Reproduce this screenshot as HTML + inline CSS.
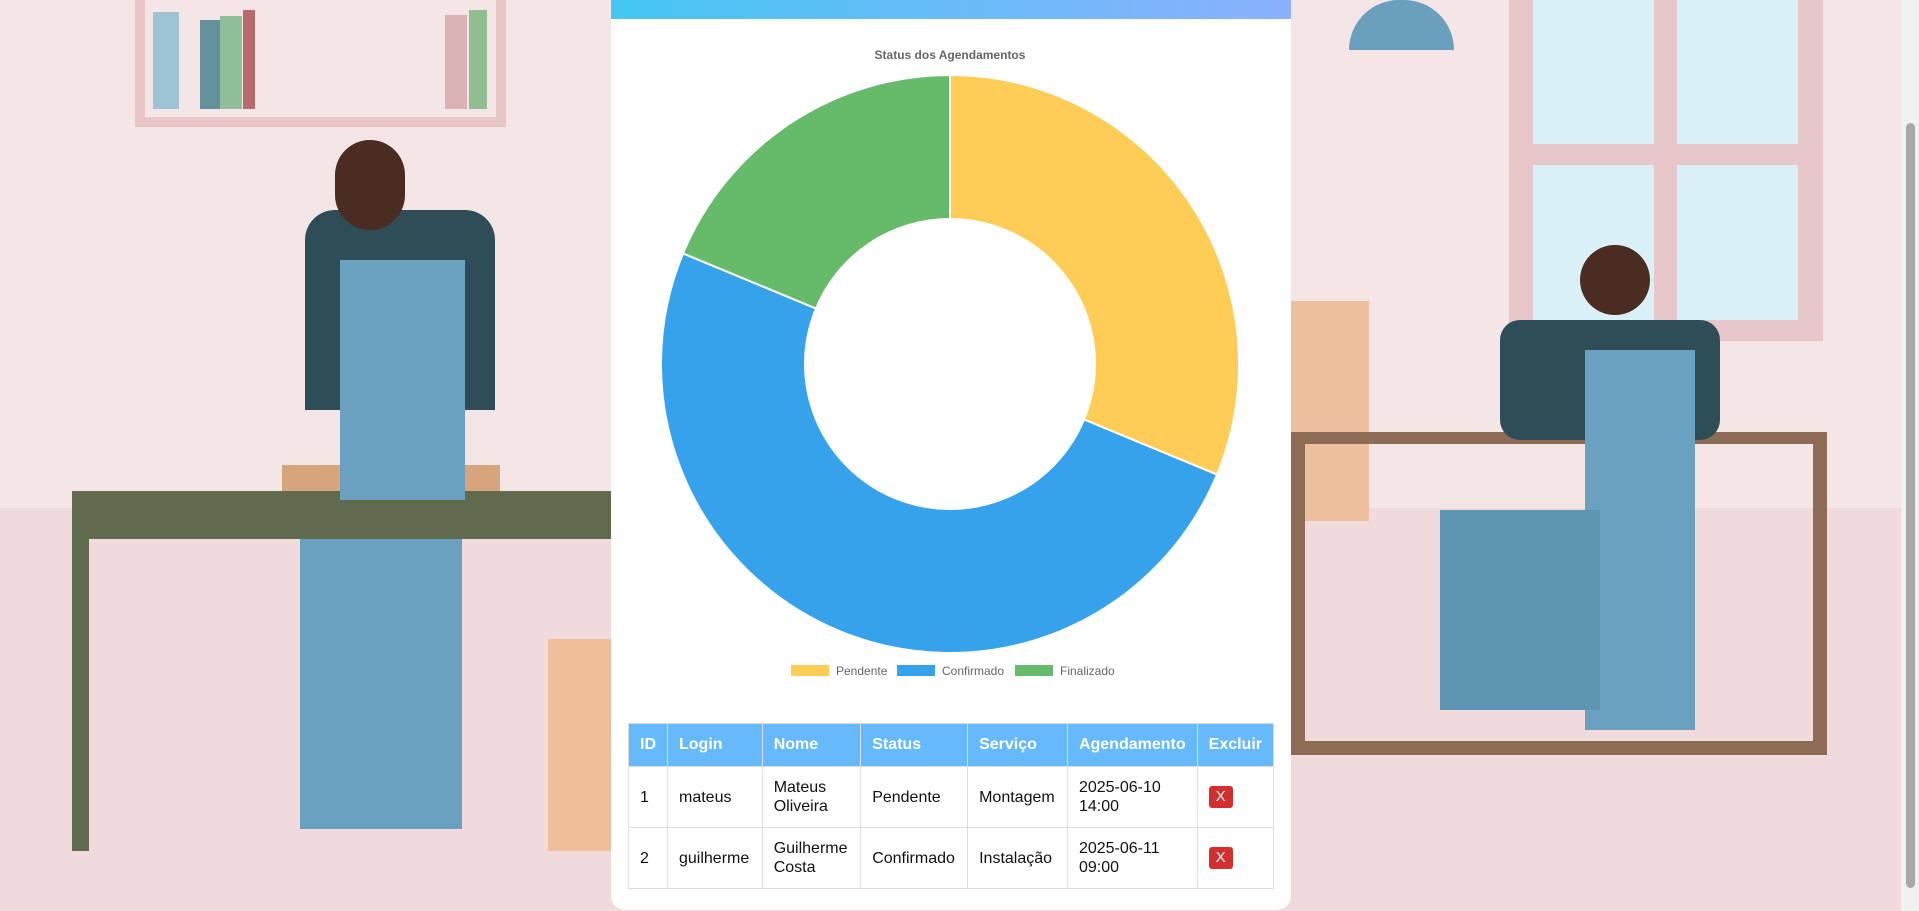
<!DOCTYPE html>
<html><head><meta charset="utf-8"><style>
*{margin:0;padding:0;box-sizing:border-box}
body{width:1919px;height:911px;overflow:hidden;background:#f4e6e6;font-family:"Liberation Sans",sans-serif;position:relative}
.a{position:absolute}
.card{position:absolute;left:611px;top:0;width:680px;height:910px;background:#fff;border-radius:0 0 14px 14px;overflow:hidden}
.bar{height:19px;background:linear-gradient(90deg,#45c6f3,#8bb0fd)}
table{position:absolute;left:17px;top:723px;width:646px;border-collapse:collapse;font-size:16px;color:#111}
th{background:#66b9fb;color:#fff;text-align:left;font-weight:bold;height:43px;padding:0 11px;border:1px solid #ddd}
td{border:1px solid #ddd;padding:0 11px;height:61px;line-height:19px}
.x{display:inline-block;background:#d32f2f;color:#fff;border-radius:3px;width:24px;height:22px;text-align:center;line-height:22px;font-size:15px}
</style></head><body>
<div class="a" style="left:0;top:508px;width:1919px;height:403px;background:#f1dadb"></div>
<div class="a" style="left:135px;top:0;width:371px;height:127px;border:10px solid #e8c6c8;border-top:none"></div>
<div class="a" style="left:153px;top:12px;width:26px;height:97px;background:#9ec3d5"></div>
<div class="a" style="left:200px;top:20px;width:20px;height:89px;background:#64909c"></div>
<div class="a" style="left:220px;top:16px;width:22px;height:93px;background:#8fbf98"></div>
<div class="a" style="left:243px;top:10px;width:12px;height:99px;background:#b86a6e"></div>
<div class="a" style="left:445px;top:15px;width:22px;height:94px;background:#dcb3b5"></div>
<div class="a" style="left:469px;top:10px;width:18px;height:99px;background:#8fbf8e"></div>
<div class="a" style="left:1509px;top:0;width:314px;height:341px;background:#e8c7cb"></div>
<div class="a" style="left:1533px;top:0;width:121px;height:144px;background:#d9f1f6"></div>
<div class="a" style="left:1677px;top:0;width:121px;height:144px;background:#d9f1f6"></div>
<div class="a" style="left:1533px;top:165px;width:121px;height:155px;background:#d9f1f6"></div>
<div class="a" style="left:1677px;top:165px;width:121px;height:155px;background:#d9f1f6"></div>
<div class="a" style="left:1349px;top:0;width:105px;height:50px;background:#6a9fbd;border-radius:50px 50px 0 0"></div>
<div class="a" style="left:1291px;top:301px;width:78px;height:220px;background:#eebf9c"></div>
<div class="a" style="left:72px;top:491px;width:539px;height:48px;background:#5f6b4c"></div>
<div class="a" style="left:72px;top:539px;width:17px;height:312px;background:#5f6b4c"></div>
<div class="a" style="left:548px;top:639px;width:63px;height:212px;background:#efbf9a"></div>
<div class="a" style="left:282px;top:465px;width:218px;height:26px;background:#d6a57c"></div>
<div class="a" style="left:305px;top:210px;width:190px;height:200px;background:#2f4d56;border-radius:30px 30px 0 0"></div>
<div class="a" style="left:335px;top:140px;width:70px;height:90px;background:#4a2c22;border-radius:35px"></div>
<div class="a" style="left:340px;top:260px;width:125px;height:240px;background:#6aa1c0"></div>
<div class="a" style="left:300px;top:539px;width:162px;height:290px;background:#6aa1c0"></div>
<div class="a" style="left:1291px;top:432px;width:536px;height:323px;border:14px solid #8e6b55;border-top-width:12px"></div>
<div class="a" style="left:1500px;top:320px;width:220px;height:120px;background:#2f4d56;border-radius:20px"></div>
<div class="a" style="left:1580px;top:245px;width:70px;height:70px;background:#4a2c22;border-radius:35px"></div>
<div class="a" style="left:1585px;top:350px;width:110px;height:380px;background:#6aa1c0"></div>
<div class="a" style="left:1440px;top:510px;width:160px;height:200px;background:#5d95b3"></div>
<div class="a" style="left:1901px;top:0;width:18px;height:911px;background:#f1f1f1"></div>
<div class="a" style="left:1906px;top:123px;width:9px;height:765px;background:#a8a8a8;border-radius:5px"></div>
<div class="card">
<div class="bar"></div>
<svg class="a" style="left:0;top:0" width="680" height="700">
<text x="339" y="59" text-anchor="middle" font-size="12" font-weight="bold" fill="#666" font-family="Liberation Sans">Status dos Agendamentos</text>
<g id="slices"></g><g id="legend"></g>
</svg>
<table>
<tr><th style="width:39px">ID</th><th style="width:96px">Login</th><th style="width:100px">Nome</th><th style="width:108px">Status</th><th style="width:101px">Serviço</th><th style="width:126px">Agendamento</th><th>Excluir</th></tr>
<tr><td>1</td><td>mateus</td><td>Mateus<br>Oliveira</td><td>Pendente</td><td>Montagem</td><td>2025-06-10<br>14:00</td><td><span class="x">X</span></td></tr>
<tr><td>2</td><td>guilherme</td><td>Guilherme<br>Costa</td><td>Confirmado</td><td>Instalação</td><td>2025-06-11<br>09:00</td><td><span class="x">X</span></td></tr>
</table>
</div>
<script>
const labels=["Pendente","Confirmado","Finalizado"];
const values=[5,8,3];
const colors=["#ffcd56","#36a2eb","#66bb6a"];
const cx=339,cy=364,R=289,r=145;
const g=document.getElementById('slices'),lg=document.getElementById('legend');
const NS="http://www.w3.org/2000/svg";
const tot=values.reduce((a,b)=>a+b,0);
let a0=0;
function pt(rad,a){return [cx+rad*Math.sin(a),cy-rad*Math.cos(a)];}
values.forEach((v,i)=>{
 const a1=a0+v/tot*2*Math.PI,lf=(a1-a0)>Math.PI?1:0;
 const p1=pt(R,a0),p2=pt(R,a1),p3=pt(r,a1),p4=pt(r,a0);
 const p=document.createElementNS(NS,'path');
 p.setAttribute('d',`M${p1}A${R},${R} 0 ${lf} 1 ${p2}L${p3}A${r},${r} 0 ${lf} 0 ${p4}Z`);
 p.setAttribute('fill',colors[i]);p.setAttribute('stroke','#fff');p.setAttribute('stroke-width','2');
 
 
 g.appendChild(p);a0=a1;
});
const lx=[180,286,404];
labels.forEach((l,i)=>{
 const e=document.createElementNS(NS,'g');
 
 
 e.innerHTML=`<rect x="${lx[i]}" y="665" width="38" height="11" fill="${colors[i]}"/><text x="${lx[i]+45}" y="675" font-size="12" fill="#666" font-family="Liberation Sans">${l}</text>`;
 lg.appendChild(e);
});
</script>
</body></html>
